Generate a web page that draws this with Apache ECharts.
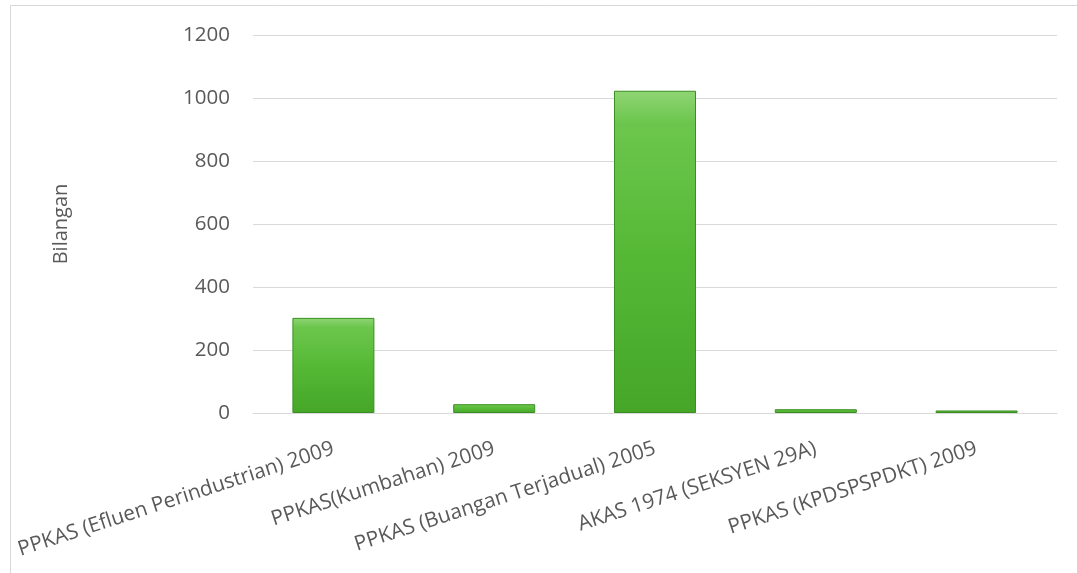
<!DOCTYPE html>
<html>
<head>
<meta charset="utf-8">
<style>
html,body{margin:0;padding:0;background:#fff;}
#chart{width:1077px;height:573px;}
</style>
<script src="https://cdn.jsdelivr.net/npm/echarts@6/dist/echarts.min.js"></script>
</head>
<body>
<div id="chart"></div>
<script>
const categories = [
  'PPKAS (Efluen Perindustrian) 2009',
  'PPKAS(Kumbahan) 2009',
  'PPKAS (Buangan Terjadual) 2005',
  'AKAS 1974 (SEKSYEN 29A)',
  'PPKAS (KPDSPSPDKT) 2009'
];
const values = [302, 28, 1023, 12, 8];
const yTicks = [0, 200, 400, 600, 800, 1000, 1200];
const yName = 'Bilangan';

const chart = echarts.init(document.getElementById('chart'), null, {renderer: 'canvas'});
const font = '"Open Sans", sans-serif';
chart.setOption({
  backgroundColor: '#ffffff',
  animation: false,
  graphic: [{
    type: 'rect',
    shape: {x: 10.5, y: 5.5, width: 1200, height: 700},
    style: {fill: 'none', stroke: '#d9d9d9', lineWidth: 1},
    silent: true
  }],
  grid: {left: 253, right: 20, top: 35, bottom: 160},
  xAxis: {
    type: 'category',
    data: categories,
    axisLine: {show: true, lineStyle: {color: '#d9d9d9', width: 1}},
    axisTick: {show: false},
    axisLabel: {
      rotate: 18,
      interval: 0,
      margin: 35,
      color: '#595959',
      fontFamily: font,
      fontSize: 20.8
    }
  },
  yAxis: {
    type: 'value',
    min: yTicks[0],
    max: yTicks[yTicks.length - 1],
    interval: yTicks[1] - yTicks[0],
    name: yName,
    nameLocation: 'middle',
    nameGap: 182,
    nameRotate: 90,
    nameTextStyle: {color: '#595959', fontFamily: font, fontSize: 20},
    axisLine: {show: false},
    axisTick: {show: false},
    splitLine: {lineStyle: {color: '#d9d9d9', width: 1}},
    axisLabel: {
      margin: 23,
      color: '#595959',
      fontFamily: font,
      fontSize: 20.5,
      formatter: function (v) { return String(v); }
    }
  },
  series: [{
    type: 'bar',
    data: values,
    barWidth: '51%',
    itemStyle: {
      color: new echarts.graphic.LinearGradient(0, 0, 0, 1, [
        {offset: 0, color: '#8fd575'},
        {offset: 0.1, color: '#6cc64d'},
        {offset: 0.5, color: '#56b936'},
        {offset: 1, color: '#45a628'}
      ]),
      borderColor: '#3b8f22',
      borderWidth: 1
    }
  }]
});
</script>
</body>
</html>
